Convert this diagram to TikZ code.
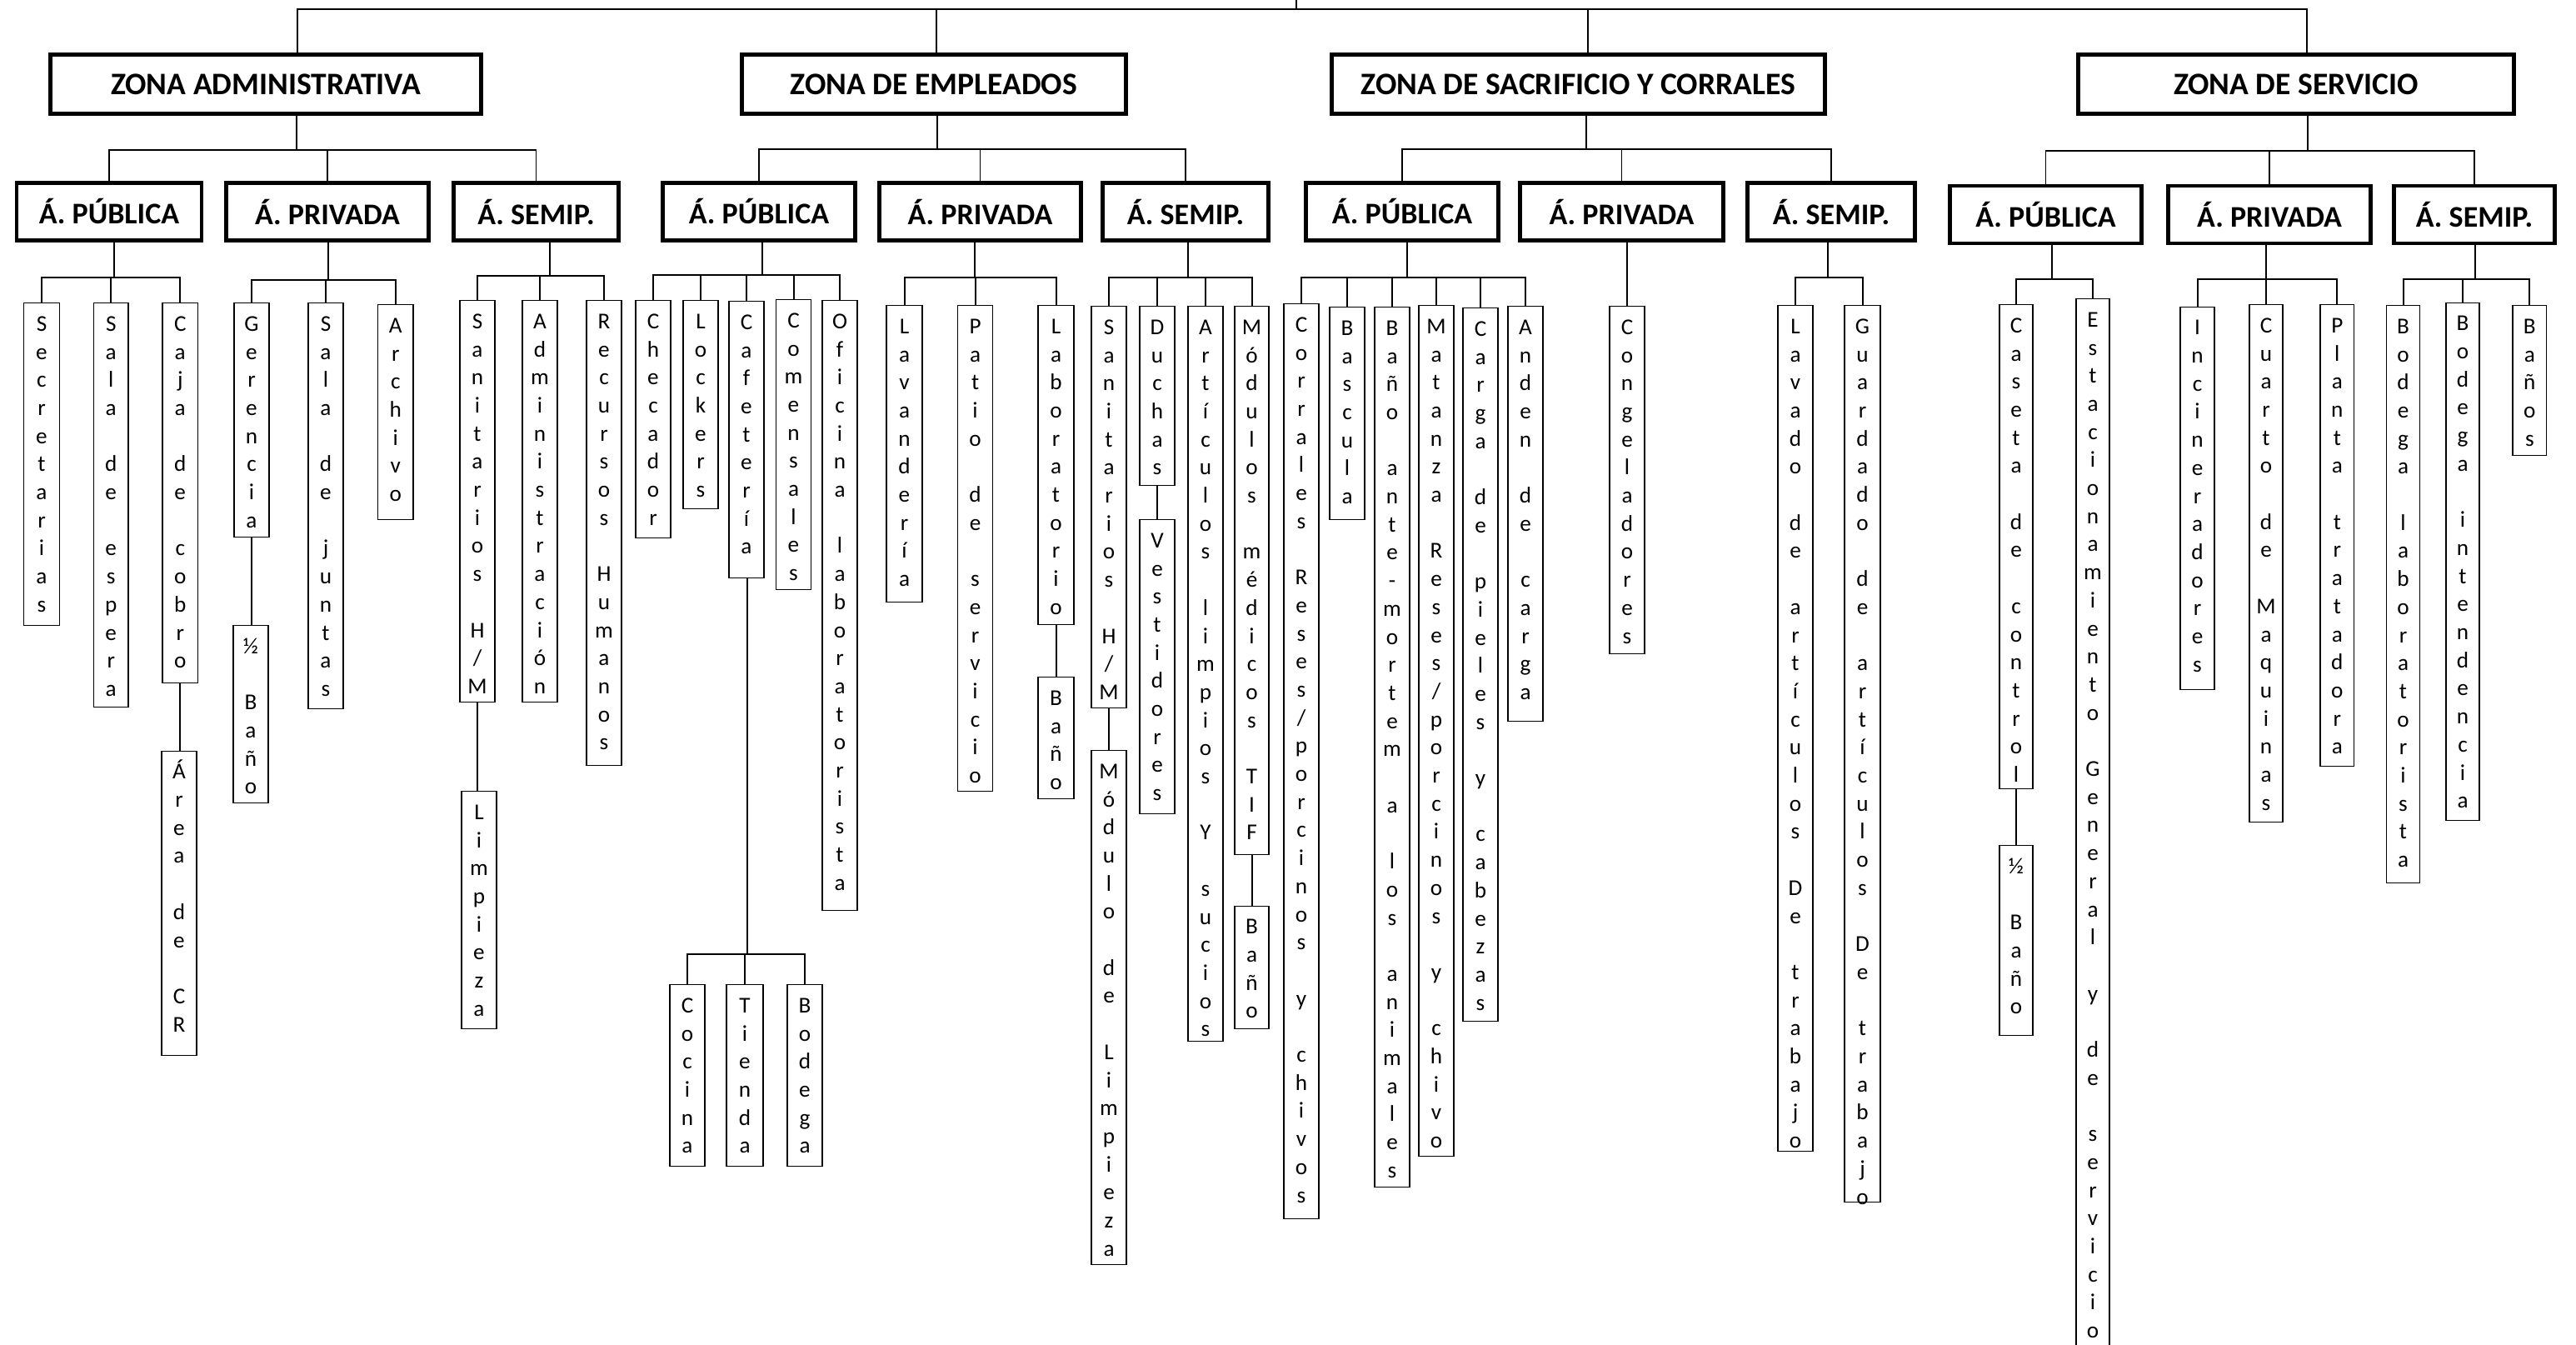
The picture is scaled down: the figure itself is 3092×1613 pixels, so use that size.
\documentclass[tikz,border=0pt]{standalone}
\usepackage{fontspec}
\setmainfont{Carlito}

% letters one under the other, | gives an empty line
\makeatletter
\newcommand\vtext[1]{\hbox{}\vt@#1\relax}
\def\vt@#1{\ifx\relax#1\else\ifx|#1\hbox{}\else\hbox to\hsize{\hss#1\hss}\fi\expandafter\vt@\fi}
\newcommand\vlabel[2]{\vbox to #1{\hsize=20pt\baselineskip=16.85pt\lineskiplimit=-\maxdimen
  \expandafter\vtext\expandafter{#2}\vss}}
\makeatother

% parent, junction x, junction y, children
\newcommand\branch[5][conn]{%
  \coordinate (j) at (#3,#4);
  \draw[#1] (#2.south -| j) -- (j);
  \foreach \c in {#5} \draw[#1] (j) -| (\c.north);}

\begin{document}
\begin{tikzpicture}[
    x=0.5pt, y=-0.5pt,
    zone/.style={draw, line width=2.5pt, minimum height=35.5pt, inner sep=0pt,
      font=\bfseries\fontsize{18.8}{20}\selectfont},
    area/.style={draw, line width=2.3pt, minimum height=34.5pt, inner sep=0pt,
      font=\bfseries\fontsize{18}{20}\selectfont},
    leaf/.style={draw, line width=0.6pt, anchor=north, inner sep=0pt, minimum width=20pt,
      font=\fontsize{13.6}{16}\selectfont},
    conn/.style={line width=0.7pt},
    bus/.style={line width=1pt}
  ]
  \useasboundingbox (0,0) rectangle (3092,1613);

  % zonas
  \node[zone, minimum width=258.5pt] (zadm) at (319,101) {ZONA ADMINISTRATIVA};
  \node[zone, minimum width=230.5pt] (zemp) at (1121,101) {ZONA DE EMPLEADOS};
  \node[zone, minimum width=296pt] (zsac) at (1894.5,101) {ZONA DE SACRIFICIO Y CORRALES};
  \node[zone, minimum width=261.5pt] (zser) at (2756,101) {ZONA DE SERVICIO};

  \coordinate (root) at (1556,0);
  \coordinate (j0) at (1556,11);
  \draw[bus] (root) -- (j0);
  \foreach \z/\dx in {zadm/19pt,zemp/1.5pt,zsac/5.75pt,zser/6.5pt}
    \draw[bus] (j0) -| ([xshift=\dx]\z.north);

  % areas
  \node[area, minimum width=111pt] (apub1) at (131,254) {Á. PÚBLICA};
  \node[area, minimum width=121.7pt] (apri1) at (393,254) {Á. PRIVADA};
  \node[area, minimum width=99.2pt] (asem1) at (643.5,254) {Á. SEMIP.};
  \node[area, minimum width=115.7pt] (apub2) at (911,254) {Á. PÚBLICA};
  \node[area, minimum width=121.2pt] (apri2) at (1176.5,254) {Á. PRIVADA};
  \node[area, minimum width=99.7pt] (asem2) at (1423,254) {Á. SEMIP.};
  \node[area, minimum width=115.7pt] (apub3) at (1683,254) {Á. PÚBLICA};
  \node[area, minimum width=122.2pt] (apri3) at (1946.5,254) {Á. PRIVADA};
  \node[area, minimum width=100.7pt] (asem3) at (2198,254) {Á. SEMIP.};
  \node[area, minimum width=115.2pt] (apub4) at (2455.5,257.5) {Á. PÚBLICA};
  \node[area, minimum width=121.7pt] (apri4) at (2724,257.5) {Á. PRIVADA};
  \node[area, minimum width=96.7pt] (asem4) at (2970,257.5) {Á. SEMIP.};

  \branch{zadm}{356}{180}{apub1,apri1,asem1}
  \branch{zemp}{1125}{179}{apub2,apri2,asem2}
  \branch{zsac}{1904}{179}{apub3,apri3,asem3}
  \branch{zser}{2770}{181}{apub4,apri4,asem4}

  % locales
  \foreach \nm/\xl/\xr/\yt/\yb/\txt in {
      secr/28.6/71.4/363/750/Secretarias,
      sesp/112.5/154/363/848/{Sala|de|espera},
      caja/195/237.5/363/819/{Caja|de|cobro},
      arcr/194/236/900.5/1266/{Área|de|CR},
      gere/281/323/363/644/Gerencia,
      mban1/280/322/750/963/{½|Baño},
      sjun/370/412/363/850/{Sala|de|juntas},
      arch/453.6/496/365/623/Archivo,
      sani1/552/594/360/842/{Sanitarios|H/M},
      limp/554/596/949/1234/Limpieza,
      admi/627/669/360/842/Administración,
      rrhh/704/746/360/918/{Recursos|Humanos},
      chec/763/805/360/645/Checador,
      lock/820/862/360/610/Lockers,
      cafe/875/917/361/693/Cafetería,
      come/931.5/973.5/359/707/Comensales,
      ofil/987/1029/360/1092/{Oficina|laboratorista},
      coci/804/846/1181/1399/Cocina,
      tien/872/916/1181/1399/Tienda,
      bode1/945/987/1181/1399/Bodega,
      lava/1064/1107/366/721.5/Lavandería,
      pati/1149.5/1191.6/366/949/{Patio|de|servicio},
      labo/1246/1289/366/749/Laboratorio,
      bano1/1246/1289/812/958/Baño,
      sani2/1310/1352/367/849/{Sanitarios|H/M},
      mlim/1310/1352/900/1517/{Módulo|de|Limpieza},
      duch/1368/1410/367/582/Duchas,
      vest/1368/1410/623/975.5/Vestidores,
      arti/1426/1468/367/1249/{Artículos|limpios|Y|sucios},
      mmed/1482/1523/367/1025/{Módulos|médicos|TIF},
      bano2/1482/1523/1086.5/1233.5/Baño,
      corr/1541/1583/364/1462/{Corrales|Reses/porcinos|y|chivos},
      basc/1596/1638/368/623/Bascula,
      bant/1650/1692/368/1424/{Baño|ante-mortem|a|los|animales},
      mata/1703/1745/366/1387/{Matanza|Reses/porcinos|y|chivo},
      carg/1756/1798/369/1225/{Carga|de|pieles|y|cabezas},
      ande/1810/1852/367/865/{Anden|de|carga},
      cong/1932/1974/367/784/Congeladores,
      lava2/2134/2176/366/1380.5/{Lavado|de|artículos|De|trabajo},
      guar/2214/2257/366/1442/{Guardado|de|artículos|De|trabajo},
      case/2400/2440/365/946/{Caseta|de|control},
      mban2/2400/2440/1014/1241.5/{½|Baño},
      esta/2492/2532/358/1660/{Estacionamiento|General|y|de|servicio},
      inci/2617/2658/367.5/827/Incineradores,
      cuar/2700/2740/365/985.6/{Cuarto|de|Maquinas},
      plan/2785/2825.6/365/919/{Planta|tratadora},
      bod2/2864.5/2904.5/366/1059/{Bodega|laboratorista},
      bod3/2936/2976/362.5/984/{Bodega|intendencia},
      bans/3016/3056.6/366/546/Baños}{
    \pgfmathsetmacro\w{(\xr-\xl)/2}
    \pgfmathsetmacro\h{(\yb-\yt)/2}
    \node[leaf, minimum width=\w pt] (\nm) at ({(\xl+\xr)/2},\yt) {\vlabel{\h pt}{\txt}};
  }

  \branch[bus]{apub1}{137}{333}{secr,sesp,caja}
  \branch[bus]{apri1}{394}{336}{gere,sjun,arch}
  \branch[bus]{asem1}{660}{331}{sani1,admi,rrhh}
  \branch[bus]{apub2}{915}{330}{chec,lock,cafe,come,ofil}
  \branch[bus]{apri2}{1170}{333}{lava,pati,labo}
  \branch[bus]{asem2}{1426}{333}{sani2,duch,arti,mmed}
  \branch[bus]{apub3}{1689}{333}{corr,basc,bant,mata,carg,ande}
  \branch[bus]{asem3}{2194}{333}{lava2,guar}
  \branch[bus]{apub4}{2463}{335}{case,esta}
  \branch[bus]{apri4}{2720}{335}{inci,cuar,plan}
  \branch[bus]{asem4}{2971}{335}{bod2,bod3,bans}
  \branch[bus]{cafe}{897}{1145}{coci,tien,bode1}
  \draw[bus] (apri3.south -| cong.north) -- (cong.north);
  \foreach \p/\q in {caja/arcr,gere/mban1,sani1/limp,labo/bano1,sani2/mlim,duch/vest,mmed/bano2,case/mban2}
    \draw[bus] (\p.south) -- (\p.south |- \q.north);
\end{tikzpicture}
\end{document}
